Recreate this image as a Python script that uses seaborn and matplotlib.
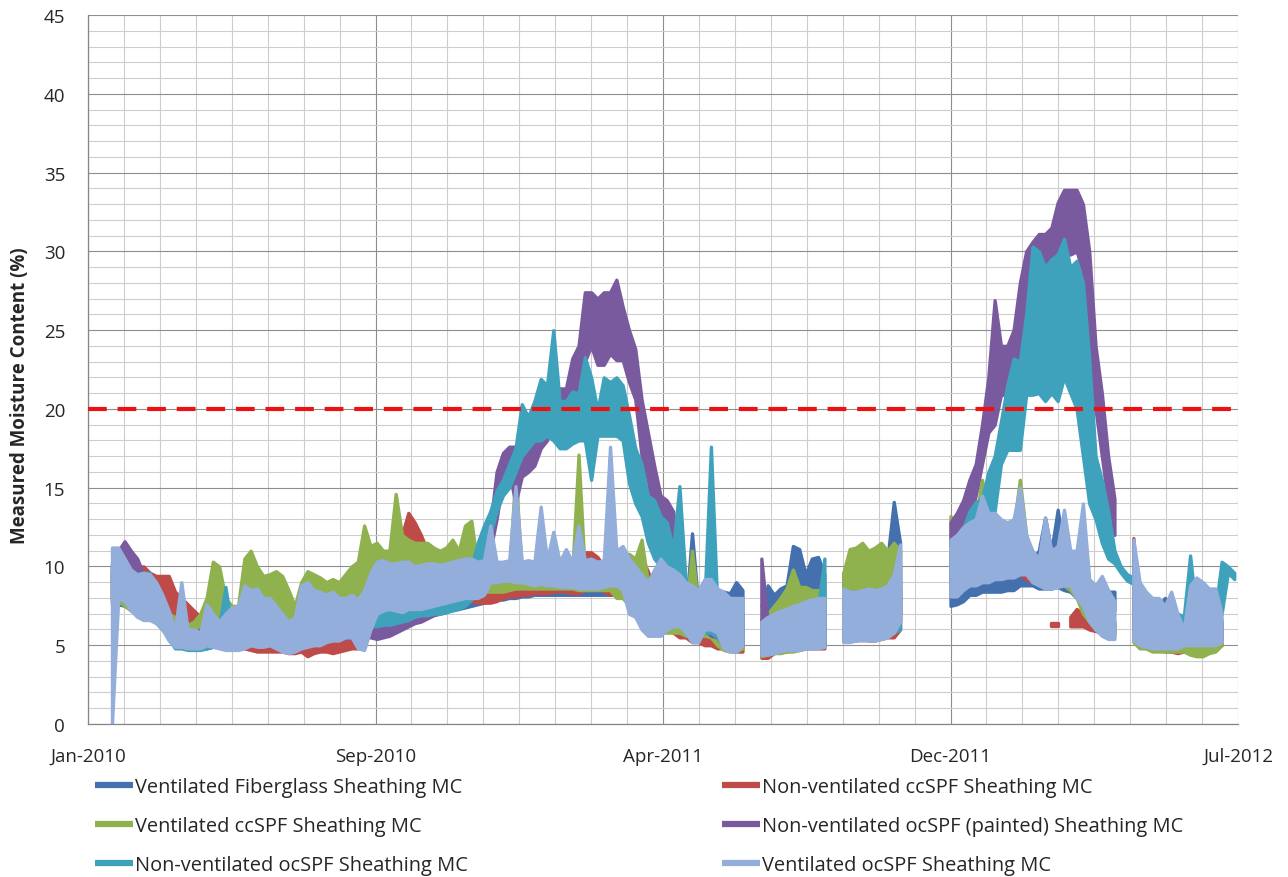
import numpy as np
import pandas as pd
import matplotlib
matplotlib.use('Agg')
import matplotlib.pyplot as plt
import matplotlib.dates as mdates
from matplotlib.lines import Line2D
from matplotlib.ticker import FixedLocator, FixedFormatter, MultipleLocator
import seaborn as sns

nan = np.nan

# ==========================================
# data: daily swing of each sensor as a
# low / high pair, one pair every 5 days
# ==========================================
SAMPLE_DATES = pd.date_range('2010-02-10', periods=179, freq='5D')

XTICK_DATES = ['2010-01-22', '2010-09-07', '2011-04-23', '2011-12-07', '2012-07-22']
XTICK_LABELS = ['Jan-2010', 'Sep-2010', 'Apr-2011', 'Dec-2011', 'Jul-2012']
THRESHOLD = 20

SERIES_NAMES = ['Ventilated Fiberglass Sheathing MC',
                'Non-ventilated ccSPF Sheathing MC',
                'Ventilated ccSPF Sheathing MC',
                'Non-ventilated ocSPF (painted) Sheathing MC',
                'Non-ventilated ocSPF Sheathing MC',
                'Ventilated ocSPF Sheathing MC']
SERIES_COLORS = ['#4470AE', '#BE4B48', '#8FB24F', '#7A5A9E', '#3FA2BC', '#93AEDA']

VENT_FIBERGLASS_LOW = [
    7.8, 7.6, 7.5, 7.3, 7.2, 7.0, 6.8, 6.5, 6.2, 5.6,
    5.3, 5.0, 4.9, 4.9, 4.8, 4.8, 4.9, 4.9, 4.8, 4.8,
    4.8, 4.9, 5.0, 5.0, 5.0, 5.0, 4.9, 4.8, 4.7, 4.8,
    4.9, 5.0, 5.1, 5.2, 5.3, 5.4, 5.4, 5.5, 5.5, 5.3,
    5.3, 5.8, 5.9, 6.0, 6.1, 6.2, 6.4, 6.6, 6.7, 6.8,
    6.9, 7.0, 7.1, 7.2, 7.3, 7.3, 7.4, 7.5, 7.6, 7.7,
    7.8, 7.9, 7.9, 8.0, 8.0, 8.1, 8.1, 8.2, 8.2, 8.2,
    8.2, 8.2, 8.2, 8.2, 8.2, 8.2, 8.2, 8.2, 8.2, 8.2,
    8.2, 8.2, 8.1, 7.9, 7.5, 6.8, 6.5, 6.2, 6.0, 6.0,
    5.8, 5.6, 5.6, 5.6, 5.4, 5.4, 5.0, 5.0, 5.0, 5.0,
    5.0, nan, nan, 5.0, 5.0, 5.2, 5.5, 6.0, 6.5, 7.0,
    7.0, 7.2, 7.5, 7.5, nan, nan, 6.5, 6.0, 6.0, 6.0,
    6.0, 6.2, 6.2, 6.5, 7.0, 7.0, nan, nan, nan, nan,
    nan, nan, nan, 7.5, 7.6, 7.8, 8.2, 8.2, 8.4, 8.4,
    8.4, 8.4, 8.5, 8.5, 8.8, 8.8, 8.8, 8.6, 8.6, 8.6,
    8.7, 8.5, 8.4, 8.0, 7.5, 7.0, 7.0, 7.0, 7.1, 7.2,
    nan, nan, 5.5, 5.2, 5.0, 5.0, 5.0, 5.0, 5.0, 5.0,
    5.0, 5.2, 5.2, 5.2, 5.2, 5.2, 5.5, nan, nan]
VENT_FIBERGLASS_HIGH = [
    9.5, 9.2, 9.0, 8.8, 8.6, 8.4, 7.8, 7.3, 7.0, 6.6,
    6.5, 6.4, 6.2, 6.4, 6.5, 6.5, 6.6, 6.6, 6.5, 6.6,
    6.8, 6.8, 6.8, 6.7, 6.8, 6.8, 6.6, 6.5, 6.2, 6.4,
    6.5, 6.6, 6.8, 6.8, 6.9, 6.9, 7.0, 7.0, 7.0, 7.0,
    6.8, 6.8, 7.0, 7.0, 7.1, 7.2, 7.3, 7.3, 7.4, 7.4,
    7.5, 7.6, 7.6, 7.7, 7.8, 7.9, 8.0, 8.0, 8.1, 8.2,
    8.3, 8.3, 8.4, 8.4, 8.5, 8.5, 8.5, 8.6, 8.6, 8.6,
    8.6, 8.6, 8.6, 8.5, 8.5, 8.5, 8.5, 8.5, 8.5, 17.0,
    8.5, 8.5, 8.5, 8.4, 8.3, 8.0, 7.8, 7.5, 7.2, 7.0,
    7.0, 7.0, 12.1, 7.5, 7.5, 8.0, 8.4, 8.4, 8.3, 9.0,
    8.5, nan, nan, 6.5, 8.8, 8.2, 8.6, 8.8, 11.3, 11.1,
    9.5, 10.5, 10.6, 9.5, nan, nan, 9.6, 9.2, 9.2, 9.5,
    9.5, 10.0, 10.0, 10.5, 14.1, 11.5, nan, nan, nan, nan,
    nan, nan, nan, 9.5, 10.0, 10.5, 10.5, 11.0, 11.0, 11.0,
    11.5, 11.0, 11.0, 11.0, 11.0, 10.5, 10.5, 11.0, 13.1, 11.0,
    13.6, 11.0, 11.0, 10.5, 9.5, 8.5, 8.4, 8.4, 8.4, 8.4,
    nan, nan, 11.0, 8.5, 8.0, 7.5, 7.5, 8.0, 7.5, 7.0,
    6.5, 8.5, 8.5, 9.0, 8.5, 8.0, 6.5, nan, nan]

NONVENT_CCSPF_LOW = [
    7.6, 7.6, 7.8, 7.8, 8.0, 7.8, 7.4, 7.0, 7.0, 6.9,
    6.6, 6.4, 6.2, 6.0, 5.8, 5.6, 5.6, 5.6, 5.2, 5.0,
    4.9, 4.8, 4.7, 4.6, 4.6, 4.6, 4.6, 4.6, 4.5, 4.5,
    4.6, 4.3, 4.5, 4.6, 4.6, 4.5, 4.6, 4.7, 4.8, 4.8,
    5.0, 7.0, 8.0, 8.5, 8.5, 8.5, 9.0, 10.0, 10.0, 9.8,
    9.5, 9.2, 9.2, 9.3, 9.2, 8.6, 8.2, 7.8, 7.7, 7.7,
    7.7, 7.8, 8.0, 8.1, 8.1, 8.2, 8.2, 8.3, 8.3, 8.3,
    8.4, 8.4, 8.4, 8.3, 8.3, 8.5, 9.0, 8.8, 8.4, 8.2,
    8.2, 8.5, 8.5, 8.0, 8.0, 7.2, 6.8, 6.2, 6.0, 5.8,
    5.5, 5.5, 5.2, 5.2, 5.0, 5.0, 4.8, 4.8, 4.7, 4.6,
    4.6, nan, nan, 4.2, 4.2, 4.5, 4.6, 4.6, 4.7, 4.7,
    4.8, 4.8, 4.8, 4.8, nan, nan, 5.3, 5.3, 5.3, 5.4,
    5.3, 5.3, 5.4, 5.5, 5.5, 6.0, nan, nan, nan, nan,
    nan, nan, nan, 9.0, 9.0, 9.0, 9.0, 9.0, 9.2, 9.2,
    9.3, 9.3, 9.3, 9.5, 9.5, 9.2, 9.0, 9.0, nan, 6.2,
    6.2, nan, 6.2, 6.2, 6.2, 6.0, 5.9, 5.8, 5.8, 5.8,
    nan, nan, 6.0, 5.0, 4.8, 4.8, 4.8, 4.6, 4.6, 4.5,
    4.6, 4.8, 4.8, 4.6, 4.6, 4.8, 5.0, nan, nan]
NONVENT_CCSPF_HIGH = [
    9.8, 9.5, 9.6, 9.6, 10.0, 10.0, 9.6, 9.4, 9.4, 9.4,
    8.4, 8.0, 7.6, 7.2, 6.8, 6.5, 6.4, 6.3, 6.2, 6.2,
    6.0, 5.8, 5.8, 5.6, 5.6, 5.5, 5.5, 5.4, 5.3, 5.3,
    5.3, 5.2, 5.2, 5.3, 5.4, 5.4, 5.5, 5.5, 5.6, 5.8,
    6.5, 9.8, 10.8, 10.6, 10.5, 11.0, 12.0, 13.4, 12.8, 12.0,
    11.0, 10.9, 10.8, 10.8, 10.5, 10.0, 9.6, 9.0, 8.6, 8.5,
    8.5, 8.5, 8.6, 9.0, 9.2, 9.6, 9.5, 9.6, 9.6, 9.5,
    9.6, 9.6, 9.5, 9.5, 9.6, 10.9, 10.9, 10.6, 10.0, 9.5,
    9.8, 10.8, 10.6, 10.5, 10.5, 9.7, 8.5, 8.0, 7.8, 7.5,
    7.2, 7.0, 6.8, 6.8, 6.5, 6.5, 6.5, 6.2, 6.0, 6.0,
    6.0, nan, nan, 5.8, 6.0, 6.0, 6.0, 6.2, 6.3, 6.4,
    6.5, 6.6, 6.7, 6.8, nan, nan, 7.0, 7.0, 7.0, 7.2,
    7.2, 7.2, 7.3, 7.3, 7.5, 8.5, nan, nan, nan, nan,
    nan, nan, nan, 10.5, 10.5, 10.8, 11.0, 11.0, 11.0, 11.0,
    11.0, 11.0, 11.2, 11.2, 11.0, 10.8, 10.5, 10.5, nan, 6.4,
    6.4, nan, 6.8, 7.3, 7.0, 6.8, 6.5, 6.4, 6.4, 6.4,
    nan, nan, 11.8, 7.0, 6.5, 6.2, 6.0, 6.0, 6.0, 6.0,
    5.8, 6.0, 6.2, 6.5, 6.0, 6.0, 6.0, nan, nan]

VENT_CCSPF_LOW = [
    8.0, 7.8, 7.5, 7.2, 7.0, 7.0, 6.8, 6.4, 6.0, 5.5,
    5.3, 5.0, 5.0, 5.0, 5.0, 5.5, 6.0, 6.2, 6.0, 5.5,
    5.5, 6.0, 6.5, 7.0, 7.5, 7.8, 7.8, 7.0, 6.0, 5.5,
    6.0, 7.0, 7.4, 7.4, 7.4, 7.5, 7.5, 7.6, 8.0, 8.0,
    8.5, 9.0, 9.0, 9.0, 8.8, 9.0, 9.0, 8.8, 8.8, 8.8,
    8.8, 9.0, 9.0, 9.0, 9.0, 8.8, 8.6, 8.5, 8.4, 8.4,
    8.4, 8.4, 8.4, 8.5, 8.6, 8.6, 8.6, 8.6, 8.6, 8.6,
    8.6, 8.6, 8.6, 8.6, 8.5, 8.5, 8.5, 8.5, 8.5, 8.5,
    8.0, 8.0, 7.5, 7.0, 6.5, 6.0, 6.0, 5.8, 5.8, 5.8,
    5.8, 5.6, 5.8, 5.6, 5.6, 5.5, 5.0, 4.7, 4.6, 4.6,
    4.8, nan, nan, 4.3, 4.4, 4.5, 4.5, 4.6, 4.6, 4.7,
    4.8, 5.0, 5.0, 5.0, nan, nan, 6.5, 8.6, 8.6, 8.6,
    8.6, 8.7, 8.7, 8.6, 9.0, 9.0, nan, nan, nan, nan,
    nan, nan, nan, 10.0, 9.5, 9.5, 9.5, 9.5, 10.0, 10.0,
    9.5, 9.5, 9.6, 9.6, 9.8, 9.8, 9.0, 9.0, 8.8, 8.8,
    8.8, 8.8, 8.5, 8.0, 7.0, 6.5, 6.0, 5.8, 5.6, 5.6,
    nan, nan, 5.2, 4.8, 4.8, 4.6, 4.6, 4.6, 4.6, 4.6,
    4.6, 4.4, 4.3, 4.3, 4.5, 4.6, 5.0, nan, nan]
VENT_CCSPF_HIGH = [
    10.0, 9.8, 9.5, 9.2, 9.0, 9.2, 8.8, 8.4, 7.8, 7.0,
    6.8, 6.5, 6.3, 6.5, 7.0, 8.0, 10.3, 10.0, 8.0, 7.5,
    7.5, 10.5, 11.0, 10.0, 9.4, 9.5, 9.7, 9.4, 8.5, 7.5,
    9.0, 9.7, 9.5, 9.3, 9.0, 9.2, 9.0, 9.5, 10.0, 10.3,
    12.6, 11.3, 11.5, 11.0, 11.0, 14.6, 12.0, 11.7, 11.5, 11.5,
    11.5, 11.2, 11.0, 11.2, 11.7, 11.0, 12.6, 12.9, 10.0, 9.0,
    9.0, 9.2, 9.4, 9.6, 16.0, 9.6, 9.8, 9.6, 9.8, 9.7,
    9.6, 9.6, 9.6, 9.6, 17.1, 9.6, 9.6, 9.5, 9.5, 9.6,
    10.8, 10.8, 10.8, 10.5, 11.7, 9.0, 8.5, 8.0, 7.8, 7.5,
    7.5, 7.0, 11.0, 7.5, 7.2, 7.5, 7.5, 7.0, 6.5, 6.5,
    6.5, nan, nan, 6.5, 7.0, 7.5, 8.0, 8.6, 9.8, 8.7,
    8.7, 8.5, 8.5, 8.3, nan, nan, 9.6, 11.1, 11.2, 11.5,
    11.0, 11.2, 11.5, 11.0, 11.5, 11.0, nan, nan, nan, nan,
    nan, nan, nan, 13.2, 12.5, 12.0, 12.5, 13.0, 15.5, 13.0,
    12.5, 12.0, 12.0, 12.5, 15.5, 12.0, 10.5, 10.5, 10.5, 10.5,
    10.5, 10.0, 10.0, 9.5, 9.0, 8.0, 7.5, 7.0, 6.8, 6.5,
    nan, nan, 10.0, 7.0, 6.5, 6.5, 6.5, 6.2, 6.2, 6.0,
    6.0, 6.5, 6.5, 6.5, 6.5, 6.0, 5.8, nan, nan]

NONVENT_OCSPF_PAINTED_LOW = [
    9.0, 9.0, 8.8, 8.5, 8.2, 7.8, 7.0, 6.5, 6.0, 5.5,
    5.2, 5.0, 4.9, 4.9, 4.9, 4.9, 5.0, 5.0, 5.0, 5.0,
    5.2, 5.1, 5.0, 5.0, 5.0, 5.0, 5.0, 5.0, 4.9, 4.9,
    5.0, 5.1, 5.2, 5.2, 5.3, 5.3, 5.4, 5.4, 5.5, 5.5,
    5.5, 5.5, 5.4, 5.5, 5.6, 5.8, 6.0, 6.2, 6.4, 6.5,
    6.7, 6.9, 7.0, 7.1, 7.3, 7.4, 7.6, 8.0, 9.0, 10.5,
    11.0, 13.0, 15.5, 16.0, 14.0, 15.7, 16.0, 16.4, 17.5, 18.0,
    19.5, 20.0, 20.0, 20.8, 21.0, 23.0, 24.0, 22.8, 22.8, 23.5,
    23.1, 23.1, 21.7, 20.6, 17.0, 15.5, 12.4, 12.4, 12.6, 10.5,
    9.0, 7.5, 6.5, 6.0, 6.0, 5.6, 5.5, 5.0, 4.8, 5.0,
    5.0, nan, nan, 4.6, 4.6, 4.7, 4.8, 4.8, 4.9, 4.9,
    5.0, 5.0, 5.0, 5.0, nan, nan, 5.5, 5.5, 5.5, 5.5,
    5.5, 5.5, 5.6, 5.8, 6.0, 6.5, nan, nan, nan, nan,
    nan, nan, nan, 11.3, 11.5, 12.0, 13.0, 14.5, 16.5, 18.5,
    19.0, 20.9, 20.9, 20.9, 22.0, 24.0, 24.0, 23.2, 23.5, 26.0,
    27.0, 29.8, 29.8, 30.0, 28.7, 21.1, 20.0, 17.0, 14.0, 12.0,
    nan, nan, 6.0, 5.2, 5.2, 5.2, 5.3, 5.3, 5.3, 5.2,
    5.3, 5.3, 5.4, 5.4, 5.4, 5.5, 5.5, nan, nan]
NONVENT_OCSPF_PAINTED_HIGH = [
    10.2, 11.0, 11.6, 11.0, 10.5, 9.5, 9.0, 8.0, 7.5, 6.8,
    6.2, 6.0, 5.8, 5.8, 6.0, 6.0, 6.2, 6.5, 6.3, 6.3,
    6.3, 6.3, 6.5, 6.5, 6.6, 6.8, 6.6, 6.5, 6.2, 6.1,
    6.3, 6.5, 6.6, 6.8, 6.8, 6.8, 6.8, 6.7, 6.8, 7.0,
    6.8, 6.6, 6.4, 6.5, 6.7, 7.0, 7.2, 7.3, 7.4, 7.6,
    7.8, 8.0, 8.1, 8.2, 8.4, 8.6, 8.8, 9.8, 11.0, 12.4,
    12.6, 16.0, 17.2, 17.6, 17.6, 17.0, 17.6, 18.3, 19.2, 20.0,
    21.3, 21.3, 21.3, 23.2, 24.0, 27.4, 27.4, 27.0, 27.4, 27.4,
    28.2, 26.5, 25.0, 23.8, 20.6, 18.5, 16.4, 14.5, 14.2, 13.5,
    11.0, 9.0, 8.0, 7.8, 7.5, 7.5, 7.2, 7.0, 7.0, 7.0,
    7.0, nan, nan, 10.5, 6.5, 6.6, 6.8, 6.8, 7.0, 7.0,
    7.2, 7.3, 7.4, 7.5, nan, nan, 8.0, 8.0, 8.0, 8.0,
    8.0, 8.0, 8.2, 8.2, 8.0, 10.0, nan, nan, nan, nan,
    nan, nan, nan, 12.8, 13.4, 14.2, 15.5, 16.5, 19.0, 22.0,
    26.9, 24.0, 24.0, 25.0, 28.0, 30.0, 30.6, 31.1, 31.1, 31.5,
    33.1, 33.9, 33.9, 33.9, 33.0, 30.0, 24.0, 21.0, 17.0, 14.3,
    nan, nan, 11.5, 8.0, 7.5, 7.2, 7.0, 7.2, 7.0, 7.0,
    6.8, 7.0, 7.0, 7.0, 7.0, 6.8, 6.5, nan, nan]

NONVENT_OCSPF_LOW = [
    8.0, 8.0, 7.8, 7.3, 7.2, 7.5, 7.8, 7.0, 6.2, 5.4,
    4.8, 4.8, 4.7, 4.7, 4.7, 4.8, 4.9, 4.9, 4.9, 4.9,
    5.0, 5.0, 5.0, 5.0, 5.0, 5.0, 5.0, 4.9, 4.8, 4.9,
    5.0, 5.1, 5.2, 5.3, 5.4, 5.5, 5.5, 5.6, 5.6, 5.6,
    5.6, 6.2, 6.2, 6.3, 6.3, 6.4, 6.5, 6.6, 6.8, 6.9,
    6.9, 7.0, 7.0, 7.1, 7.2, 7.3, 7.5, 7.9, 8.5, 9.5,
    12.0, 13.5, 14.5, 15.0, 16.0, 17.0, 17.5, 18.0, 18.0, 18.3,
    18.0, 17.5, 17.5, 17.8, 18.0, 18.0, 15.5, 18.3, 18.3, 18.3,
    18.3, 18.0, 15.3, 14.0, 13.2, 11.5, 10.5, 10.0, 9.0, 8.5,
    8.0, 6.5, 6.0, 5.8, 5.8, 5.8, 5.5, 5.0, 4.8, 5.0,
    5.2, nan, nan, 4.6, 4.6, 4.7, 4.8, 4.9, 5.0, 5.0,
    5.0, 5.1, 5.2, 5.2, nan, nan, 5.6, 5.6, 5.6, 5.7,
    5.7, 5.7, 5.8, 5.8, 5.8, 6.0, nan, nan, nan, nan,
    nan, nan, nan, 9.0, 9.5, 10.5, 11.0, 12.0, 12.4, 12.5,
    13.5, 16.5, 17.4, 17.4, 17.4, 20.9, 20.9, 21.0, 20.5, 21.0,
    20.5, 22.0, 21.0, 20.0, 17.0, 14.0, 13.0, 11.5, 10.5, 10.2,
    9.6, 9.1, 8.9, 7.5, 6.0, 5.5, 5.5, 5.5, 5.5, 5.5,
    5.5, 5.5, 5.6, 5.6, 5.6, 5.8, 7.0, 9.6, 9.2]
NONVENT_OCSPF_HIGH = [
    10.0, 10.0, 9.7, 9.7, 9.5, 9.6, 9.6, 8.5, 7.7, 6.6,
    5.6, 5.6, 5.3, 5.4, 5.4, 5.8, 6.0, 6.2, 8.7, 6.0,
    6.4, 6.8, 7.0, 7.0, 7.0, 7.0, 6.8, 6.6, 6.4, 6.5,
    6.8, 7.0, 7.0, 7.0, 7.0, 7.2, 7.2, 7.2, 7.3, 7.5,
    7.5, 7.9, 7.8, 7.8, 7.7, 7.7, 7.8, 7.9, 7.9, 7.9,
    8.0, 8.0, 8.1, 8.2, 8.3, 8.4, 8.6, 10.0, 11.5, 12.6,
    13.5, 14.8, 15.5, 16.5, 17.5, 20.3, 19.5, 20.5, 21.9, 21.5,
    25.0, 20.5, 20.5, 21.1, 21.0, 23.3, 22.0, 19.9, 22.0, 21.7,
    22.0, 21.5, 19.6, 17.5, 16.5, 14.5, 14.2, 13.2, 12.8, 11.1,
    15.1, 9.0, 8.5, 8.0, 8.0, 17.6, 7.6, 7.6, 7.4, 7.2,
    7.0, nan, nan, 6.2, 6.4, 6.5, 6.6, 6.8, 7.0, 7.0,
    7.2, 7.4, 7.5, 10.5, nan, nan, 8.0, 8.0, 7.8, 8.0,
    8.0, 8.0, 8.0, 7.8, 7.0, 9.0, nan, nan, nan, nan,
    nan, nan, nan, 10.9, 11.5, 12.4, 13.5, 14.1, 14.3, 16.0,
    17.0, 19.2, 21.5, 23.2, 23.0, 26.0, 30.3, 30.0, 29.0, 29.5,
    29.8, 30.8, 29.0, 29.4, 28.0, 23.2, 17.0, 15.5, 13.5, 11.0,
    10.0, 9.5, 9.3, 8.5, 8.0, 7.5, 7.2, 7.0, 7.0, 7.0,
    6.8, 10.7, 7.0, 7.0, 7.0, 7.2, 10.3, 10.0, 9.6]

VENT_OCSPF_LOW = [
    0.0, 8.0, 7.8, 7.2, 6.8, 6.6, 6.6, 6.4, 6.0, 5.3,
    4.9, 4.9, 4.8, 4.8, 4.8, 5.0, 4.9, 4.8, 4.7, 4.7,
    4.7, 4.8, 5.0, 4.9, 4.9, 5.0, 4.8, 4.6, 4.5, 4.6,
    4.8, 4.9, 5.0, 5.0, 5.2, 5.3, 5.3, 5.5, 5.5, 4.8,
    4.7, 6.0, 7.0, 7.2, 7.3, 7.2, 7.1, 7.3, 7.3, 7.3,
    7.4, 7.5, 7.6, 7.7, 7.8, 7.9, 8.0, 8.0, 8.0, 8.2,
    9.0, 9.0, 9.1, 9.1, 9.0, 9.0, 8.9, 8.8, 8.9, 8.8,
    8.8, 8.7, 8.7, 8.7, 8.6, 8.6, 8.6, 8.6, 8.7, 8.8,
    8.8, 8.5, 7.0, 6.8, 6.0, 5.6, 5.6, 5.6, 6.0, 6.2,
    6.2, 5.8, 5.2, 5.2, 6.0, 6.0, 5.8, 4.8, 4.6, 4.6,
    5.0, nan, nan, 4.4, 4.4, 4.5, 4.6, 4.7, 4.7, 4.7,
    4.8, 4.8, 4.8, 4.9, nan, nan, 5.2, 5.2, 5.3, 5.3,
    5.3, 5.3, 5.4, 5.5, 5.8, 6.5, nan, nan, nan, nan,
    nan, nan, nan, 8.1, 8.1, 8.5, 8.8, 8.8, 9.0, 9.0,
    9.2, 9.2, 9.3, 9.3, 9.5, 9.5, 9.0, 8.8, 8.6, 8.6,
    8.7, 8.8, 8.8, 8.0, 7.5, 6.5, 6.0, 5.6, 5.4, 5.4,
    nan, nan, 5.3, 5.0, 4.9, 4.8, 4.8, 4.8, 4.8, 4.8,
    5.0, 5.0, 5.0, 5.0, 5.0, 5.0, 5.2, nan, nan]
VENT_OCSPF_HIGH = [
    11.2, 11.2, 10.5, 9.8, 9.5, 9.6, 9.5, 9.0, 8.2, 7.2,
    6.0, 9.0, 6.0, 6.0, 5.8, 7.6, 7.0, 6.5, 7.0, 7.4,
    7.5, 8.8, 8.5, 8.6, 8.0, 8.0, 7.5, 7.0, 6.5, 6.8,
    8.8, 9.0, 8.5, 8.4, 8.2, 8.4, 8.0, 8.0, 8.2, 7.9,
    8.5, 9.6, 10.3, 10.4, 10.2, 10.2, 10.3, 10.3, 10.0, 10.1,
    10.2, 10.2, 10.1, 10.2, 10.3, 10.4, 10.5, 10.5, 10.3, 10.4,
    12.6, 10.3, 10.3, 10.4, 15.1, 10.3, 10.4, 10.3, 13.8, 10.4,
    12.2, 10.3, 11.1, 10.3, 12.6, 10.4, 10.5, 10.3, 10.4, 17.6,
    11.0, 11.3, 10.5, 10.0, 9.5, 9.0, 9.8, 10.5, 10.0, 9.8,
    9.5, 9.0, 8.8, 8.5, 9.2, 9.2, 8.6, 8.4, 8.0, 8.0,
    8.0, nan, nan, 6.5, 6.8, 7.0, 7.2, 7.3, 7.5, 7.6,
    7.8, 7.9, 8.0, 8.0, nan, nan, 8.6, 8.4, 8.4, 8.5,
    8.6, 8.5, 8.6, 8.8, 9.5, 11.4, nan, nan, nan, nan,
    nan, nan, nan, 11.7, 12.0, 12.5, 12.8, 13.0, 14.5, 13.4,
    13.4, 13.0, 12.8, 13.0, 15.0, 12.0, 11.0, 10.5, 13.1, 11.0,
    11.3, 13.6, 11.0, 11.0, 14.0, 9.2, 8.8, 9.4, 8.5, 7.8,
    nan, nan, 11.7, 9.0, 8.4, 8.0, 8.0, 7.5, 8.4, 7.0,
    6.0, 8.8, 9.3, 9.0, 8.6, 8.6, 7.0, nan, nan]

SERIES_LOW = [VENT_FIBERGLASS_LOW, NONVENT_CCSPF_LOW, VENT_CCSPF_LOW,
              NONVENT_OCSPF_PAINTED_LOW, NONVENT_OCSPF_LOW, VENT_OCSPF_LOW]
SERIES_HIGH = [VENT_FIBERGLASS_HIGH, NONVENT_CCSPF_HIGH, VENT_CCSPF_HIGH,
               NONVENT_OCSPF_PAINTED_HIGH, NONVENT_OCSPF_HIGH, VENT_OCSPF_HIGH]

# ==========================================
# long-form table; every unbroken run of readings is its own hue level
# so that logger outages stay as gaps
# ==========================================
frames = []
run_order, run_palette = [], {}
for name, color, low, high in zip(SERIES_NAMES, SERIES_COLORS, SERIES_LOW, SERIES_HIGH):
    lo = pd.Series(low, dtype=float)
    hi = pd.Series(high, dtype=float)
    run = name + '|' + lo.isna().cumsum().astype(str)
    for s in (lo, hi):
        frames.append(pd.DataFrame({'date': SAMPLE_DATES, 'mc': s.values,
                                    'run': run.values, 'series': name}))
    for r in pd.unique(run[lo.notna()]):
        run_order.append(r)
        run_palette[r] = color
df = pd.concat(frames, ignore_index=True).dropna(subset=['mc'])

# ==========================================
# plot
# ==========================================
sns.set_style('white')
plt.rcParams['font.family'] = ['Open Sans', 'DejaVu Sans']

fig = plt.figure(figsize=(12.88, 8.78), dpi=100)
ax = fig.add_axes([88 / 1288, 1 - 725 / 878, 1150 / 1288, 709 / 878])

# band = min..max of the readings at each date (daily swing), drawn in series order
sns.lineplot(data=df, x='date', y='mc', hue='run', hue_order=run_order,
             palette=run_palette, estimator='mean', errorbar=('pi', 100),
             err_kws=dict(alpha=1, linewidth=2.4, zorder=2, joinstyle='round'),
             linewidth=1.5, legend=False, ax=ax)

ax.axhline(THRESHOLD, color='#EE1111', lw=3.0, dashes=(4.5, 2.6), zorder=5)

# axes
major_x = mdates.date2num(pd.to_datetime(XTICK_DATES))
ax.set_xlim(major_x[0], major_x[-1])
ax.set_ylim(0, 45)
ax.xaxis.set_major_locator(FixedLocator(major_x))
ax.xaxis.set_major_formatter(FixedFormatter(XTICK_LABELS))
ax.xaxis.set_minor_locator(FixedLocator(np.arange(major_x[0], major_x[-1] + 1, 28.5)))
ax.yaxis.set_major_locator(MultipleLocator(5))
ax.yaxis.set_minor_locator(MultipleLocator(1))

ax.set_axisbelow(True)
ax.grid(which='major', color='#8E8E8E', lw=0.8)
ax.grid(which='minor', color='#CDCDCD', lw=0.8)
for side in ['top', 'right']:
    ax.spines[side].set_visible(False)
for side in ['left', 'bottom']:
    ax.spines[side].set_color('#868686')
    ax.spines[side].set_linewidth(0.9)

ax.tick_params(which='minor', length=0)
ax.tick_params(which='major', length=6.5, width=0.9, color='#868686',
               labelsize=13.5, labelcolor='#262626')
ax.tick_params(axis='y', pad=10)
ax.tick_params(axis='x', pad=10)

ax.set_xlabel('')
ax.set_ylabel('Measured Moisture Content (%)', fontsize=13.5, fontweight='bold')
ax.yaxis.set_label_coords(-0.05, 0.464)

# legend: two columns placed separately
handles = [Line2D([0], [0], color=c, lw=4.5, solid_capstyle='butt') for c in SERIES_COLORS]
leg_kw = dict(frameon=False, fontsize=14.4, handlelength=1.9, handletextpad=0.1,
              labelspacing=0.96, borderpad=0, borderaxespad=0, loc='upper left')
fig.legend(handles[0::2], SERIES_NAMES[0::2],
           bbox_to_anchor=(95 / 1288, 1 - 778 / 878), **leg_kw)
fig.legend(handles[1::2], SERIES_NAMES[1::2],
           bbox_to_anchor=(722 / 1288, 1 - 778 / 878), **leg_kw)

fig.savefig('out.png', dpi=100)
